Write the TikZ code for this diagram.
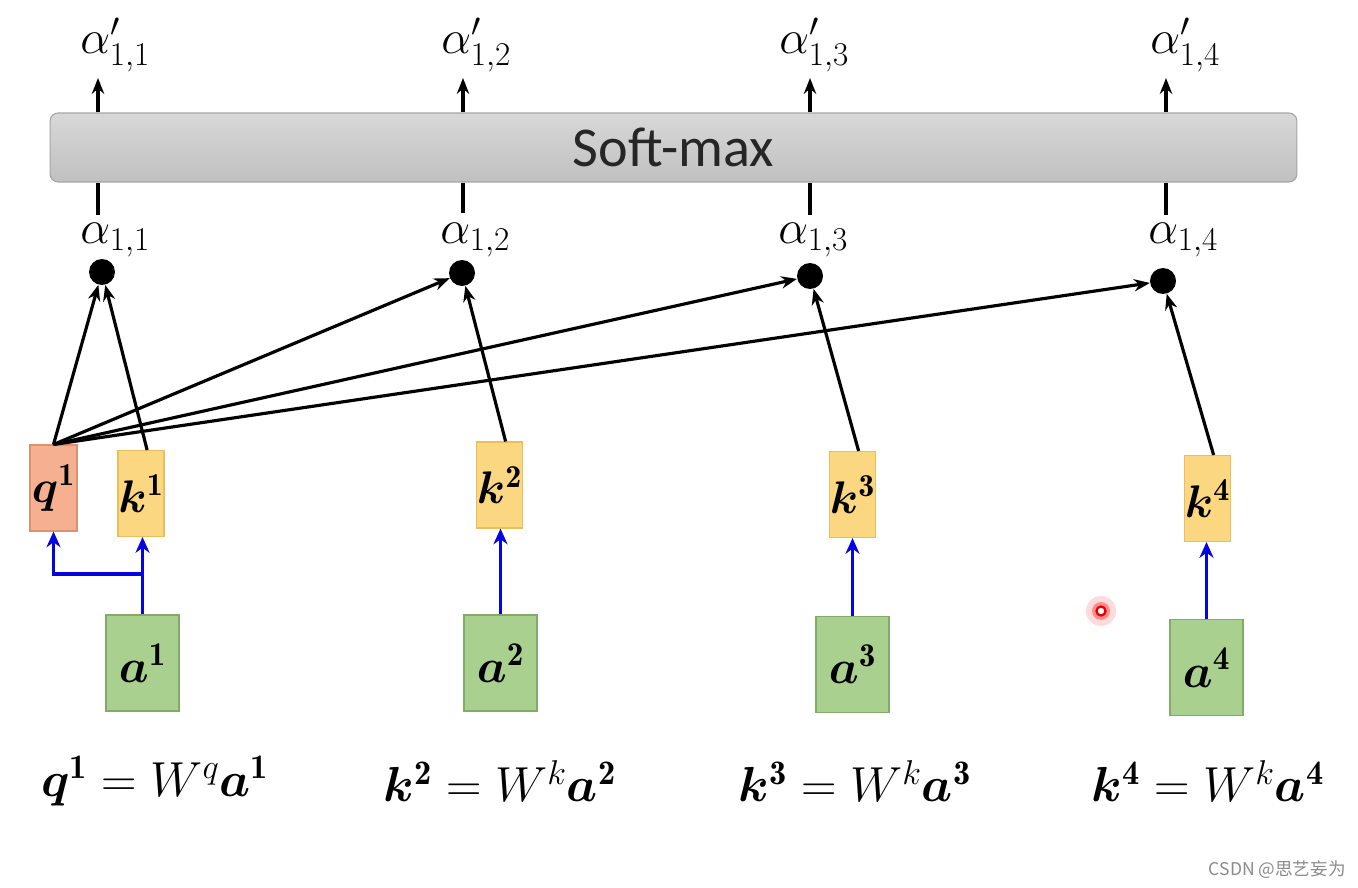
\RequirePackage{fix-cm}
\documentclass[tikz,border=0pt]{standalone}
\usepackage{amsmath,bm}
\usepackage{fontspec}
\newfontfamily\smfont{Carlito}
\newfontfamily\cjkfont{Noto Sans CJK SC}
\usetikzlibrary{arrows.meta,shapes.geometric}
\definecolor{qfill}{RGB}{245,176,146}
\definecolor{qdraw}{RGB}{222,145,110}
\definecolor{kfill}{RGB}{251,215,130}
\definecolor{kdraw}{RGB}{236,190,90}
\definecolor{afill}{RGB}{169,208,142}
\definecolor{adraw}{RGB}{130,170,105}
\definecolor{barl}{RGB}{216,216,216}
\definecolor{bard}{RGB}{192,192,192}
\definecolor{bardraw}{RGB}{165,165,165}
\definecolor{myblue}{RGB}{5,5,225}
\tikzset{
  qbox/.style={draw=qdraw,fill=qfill,line width=0.6pt,minimum width=0.94cm,minimum height=1.72cm,inner sep=0pt,font=\fontsize{26}{30}\selectfont},
  kbox/.style={draw=kdraw,fill=kfill,line width=0.6pt,minimum width=0.92cm,minimum height=1.72cm,inner sep=0pt,font=\fontsize{26}{30}\selectfont},
  abox/.style={draw=adraw,fill=afill,line width=0.6pt,minimum width=1.46cm,minimum height=1.92cm,inner sep=0pt,font=\fontsize{27}{31}\selectfont},
  dotnode/.style={circle,fill=black,minimum size=0.52cm,inner sep=0pt},
  alab/.style={anchor=west,inner sep=0pt,font=\fontsize{27}{31}\selectfont},
  eqlab/.style={inner sep=0pt,font=\fontsize{28}{32}\selectfont},
  blk/.style={line width=1.8pt,-{Stealth[length=9pt,width=7pt]}},
  blkline/.style={line width=1.8pt},
  blu/.style={line width=1.8pt,myblue,-{Stealth[length=9pt,width=8pt]}},
}
\begin{document}
\begin{tikzpicture}[x=0.02cm,y=-0.02cm]
\useasboundingbox (0,0) rectangle (1358,888);
\fill[white] (0,0) rectangle (1358,888);

% soft-max bar
\node[draw=bardraw,line width=0.6pt,rounded corners=0.16cm,top color=barl,bottom color=bard,
  minimum width=24.94cm,minimum height=1.38cm,inner sep=0pt,text=black!85,font=\smfont\fontsize{32}{36}\selectfont] (sm) at (673.5,147.5) {Soft-max};

% output labels
\node[alab] (o1) at (80,45) {$\alpha'_{1,1}$};
\node[alab] (o2) at (441,45) {$\alpha'_{1,2}$};
\node[alab] (o3) at (779,45) {$\alpha'_{1,3}$};
\node[alab] (o4) at (1150,45) {$\alpha'_{1,4}$};
\coordinate (t1) at (98,78);
\coordinate (t2) at (463,78);
\coordinate (t3) at (810,78);
\coordinate (t4) at (1166,78);
\foreach \i in {1,2,3,4} \draw[blk] (sm.north -| t\i) -- (t\i);

% alpha labels
\node[alab] (l1) at (80,240) {$\alpha_{1,1}$};
\node[alab] (l2) at (440,240) {$\alpha_{1,2}$};
\node[alab] (l3) at (778,240) {$\alpha_{1,3}$};
\node[alab] (l4) at (1148,240) {$\alpha_{1,4}$};
\coordinate (b1) at (98,215);
\coordinate (b2) at (463,213);
\coordinate (b3) at (810,215);
\coordinate (b4) at (1166,215);
\foreach \i in {1,2,3,4} \draw[blkline] (sm.south -| b\i) -- (b\i);

% dots
\node[dotnode] (d1) at (102,272) {};
\node[dotnode] (d2) at (462,273) {};
\node[dotnode] (d3) at (810,276) {};
\node[dotnode] (d4) at (1163,281) {};

% q and k boxes
\node[qbox] (q1) at (53.5,488) {$\boldsymbol{q}^{\mathbf{1}}$};
\node[kbox] (k1) at (141,493.5) {$\boldsymbol{k}^{\mathbf{1}}$};
\node[kbox] (k2) at (499.5,485) {$\boldsymbol{k}^{\mathbf{2}}$};
\node[kbox] (k3) at (852.5,494.5) {$\boldsymbol{k}^{\mathbf{3}}$};
\node[kbox] (k4) at (1207.5,498.5) {$\boldsymbol{k}^{\mathbf{4}}$};

% a boxes
\node[abox] (a1) at (142.5,663) {$\boldsymbol{a}^{\mathbf{1}}$};
\node[abox] (a2) at (500.5,663) {$\boldsymbol{a}^{\mathbf{2}}$};
\node[abox] (a3) at (852.5,664.5) {$\boldsymbol{a}^{\mathbf{3}}$};
\node[abox] (a4) at (1206.5,667.5) {$\boldsymbol{a}^{\mathbf{4}}$};

% black arrows
\draw[blk] (q1.north) -- (d1);
\draw[blk] (q1.north) -- (d2);
\draw[blk] (q1.north) -- (d3);
\draw[blk] (q1.north) -- (d4);
\draw[blk] (k1.82) -- (d1);
\draw[blk] (k2.82) -- (d2);
\draw[blk] (k3.82) -- (d3);
\draw[blk] (k4.82) -- (d4);

% blue arrows
\coordinate (br) at (142.5,574);
\draw[blu] (a1.north) -- (a1.north |- k1.south);
\draw[blu] (br) -| (q1.south);
\draw[blu] (a2.north) -- (a2.north |- k2.south);
\draw[blu] (a3.north) -- (a3.north |- k3.south);
\draw[blu] (a4.north) -- (a4.north |- k4.south);

% equations
\node[eqlab] (e1) at (155,781) {$\boldsymbol{q}^{\mathbf{1}} = W^{q}\boldsymbol{a}^{\mathbf{1}}$};
\node[eqlab] (e2) at (500,781) {$\boldsymbol{k}^{\mathbf{2}} = W^{k}\boldsymbol{a}^{\mathbf{2}}$};
\node[eqlab] (e3) at (855,781) {$\boldsymbol{k}^{\mathbf{3}} = W^{k}\boldsymbol{a}^{\mathbf{3}}$};
\node[eqlab] (e4) at (1208,781) {$\boldsymbol{k}^{\mathbf{4}} = W^{k}\boldsymbol{a}^{\mathbf{4}}$};

% pointer dot
\fill[red!20,opacity=0.7] (1101,611) circle (15);
\fill[red!45] (1101,611) circle (9);
\draw[red!90!black,line width=1.3pt,fill=white] (1101,611) circle (4.5);

% watermark
\node[anchor=east,inner sep=0pt,text=black!45,font=\cjkfont\fontsize{10}{12}\selectfont] (wm) at (1346,870) {CSDN @思艺妄为};
\end{tikzpicture}
\end{document}
